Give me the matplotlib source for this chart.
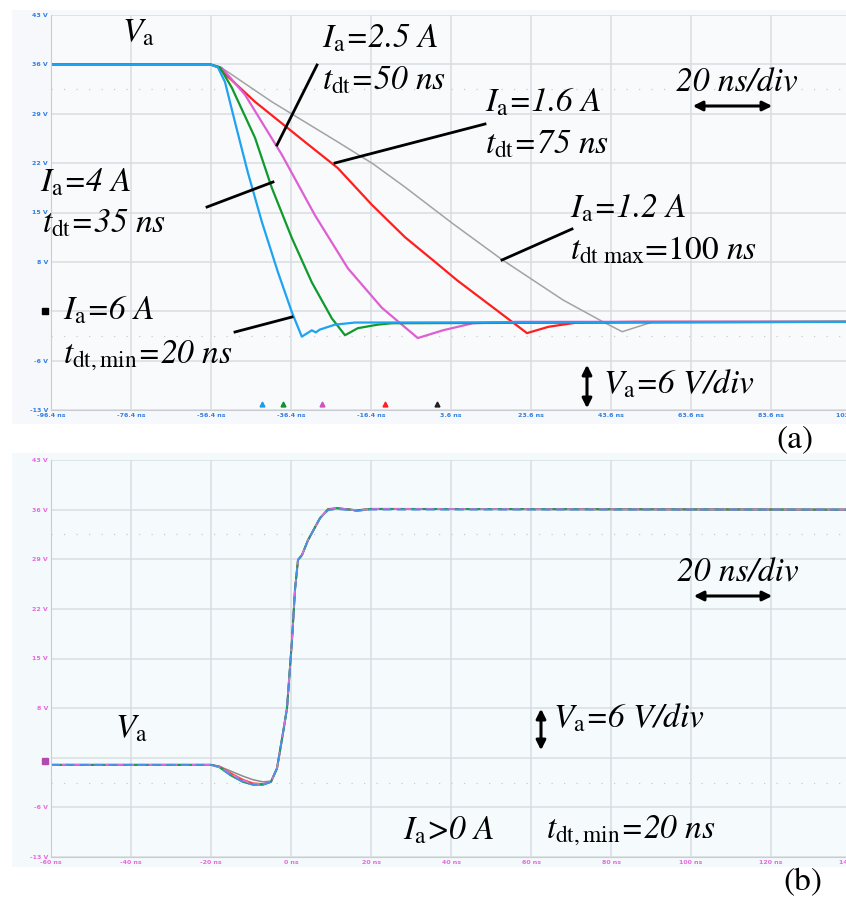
import matplotlib
matplotlib.use("Agg")
import matplotlib.pyplot as plt
from matplotlib.patches import Rectangle, FancyArrowPatch

plt.rcParams['mathtext.fontset'] = 'stix'

W, H = 846, 898

# ---------------- data: panel (a) ----------------
top_xticks = [-96.4, -76.4, -56.4, -36.4, -16.4, 3.6, 23.6, 43.6, 63.6, 83.6, 103.6]
top_xlabels = ['-96.4 ns', '-76.4 ns', '-56.4 ns', '-36.4 ns', '-16.4 ns', '3.6 ns',
               '23.6 ns', '43.6 ns', '63.6 ns', '83.6 ns', '103.6 ns']
yticks = [43, 36, 29, 22, 15, 8, 1, -6, -13]
ylabels = ['43 V', '36 V', '29 V', '22 V', '15 V', '8 V', '', '-6 V', '-13 V']

gray_t = [-96.4, -56.6, -52.9, -41.2, -24.7, -15.9, -7.9, 4.1, 16.4, 31.6, 41.6, 46.4, 54.1, 103.6]
gray_v = [36, 36, 35.2, 30.7, 25.0, 21.9, 18.6, 13.4, 8.3, 2.6, -0.5, -1.9, -0.5, -0.5]

red_t = [-96.4, -56.6, -54.7, -45.4, -32.9, -24.7, -16.2, -7.9, -0.4, 5.1, 22.6, 28.0, 35.1, 50.0, 103.6]
red_v = [36, 36, 35.6, 30.7, 25.0, 21.3, 16.1, 11.5, 8.0, 5.4, -2.1, -1.2, -0.6, -0.5, -0.5]

pink_t = [-96.4, -56.6, -53.7, -47.9, -38.7, -30.4, -22.2, -13.7, -4.7, 1.6, 9.1, 20.0, 103.6]
pink_v = [36, 36, 35.5, 31.7, 23.2, 14.6, 7.1, 1.5, -2.8, -1.7, -0.7, -0.5, -0.5]

green_t = [-96.4, -56.6, -54.2, -51.2, -45.4, -41.2, -36.2, -31.2, -26.2, -22.9, -19.7, -14.7, -11.2, 103.6]
green_v = [36, 36, 35.6, 32.7, 25.6, 18.5, 11.4, 5.1, 0.0, -2.4, -1.4, -0.9, -0.7, -0.5]

blue_t = [-96.4, -56.6, -54.7, -52.9, -50.4, -47.2, -43.7, -39.7, -36.2, -33.7, -31.2, -30.2, -29.2, -25.4, -20.4, 103.6]
blue_v = [36, 36, 35.6, 33.5, 27.8, 20.7, 13.7, 6.6, 0.9, -2.6, -1.7, -2.0, -1.6, -0.9, -0.6, -0.5]

cursor_t = [-43.6, -38.4, -28.6, -12.9, 0.1]
cursor_c = ['#1e9be8', '#109030', '#d050c8', '#ff2020', '#202020']

# ---------------- data: panel (b) ----------------
bot_xticks = [-60, -40, -20, 0, 20, 40, 60, 80, 100, 120, 140]
bot_xlabels = ['-60 ns', '-40 ns', '-20 ns', '0 ns', '20 ns', '40 ns', '60 ns',
               '80 ns', '100 ns', '120 ns', '140 ns']

b_t = [-60, -20, -18, -15, -12, -9.5, -7, -5, -3.5, -2, -1, 0.25, 1, 1.75, 2.75, 4.25, 7.25, 9.25, 11.5, 16.5, 20, 140]
b_gray = [0, 0, -0.2, -0.9, -1.6, -2.1, -2.4, -2.3, -0.5, 4.5, 8, 17.6, 24.7, 28.9, 29.6, 31.7, 34.8, 36, 36.2, 35.9, 36.1, 36]
b_red = [0, 0, -0.2, -1.2, -2.1, -2.6, -2.7, -2.4, -0.5, 4.5, 8, 17.6, 24.7, 28.9, 29.6, 31.7, 34.8, 36.1, 36.2, 35.9, 36.1, 36]
b_pink = [0, 0, -0.3, -1.3, -2.2, -2.7, -2.7, -2.4, -0.5, 4.5, 8, 17.6, 24.7, 28.9, 29.6, 31.7, 34.8, 36, 36.2, 35.9, 36.1, 36]
b_green = [0, 0, -0.3, -1.5, -2.4, -2.8, -2.8, -2.4, -0.5, 4.5, 8, 17.6, 24.7, 28.9, 29.6, 31.7, 34.8, 36, 36.2, 35.9, 36.1, 36]
b_blue = [0, 0, -0.3, -1.5, -2.4, -2.8, -2.8, -2.4, -0.5, 4.5, 8, 17.6, 24.7, 28.9, 29.6, 31.7, 34.8, 35.9, 36.1, 35.8, 36.0, 36]

fig = plt.figure(figsize=(W / 100, H / 100), dpi=100)
fig.patch.set_facecolor('white')


def fx(px):
    return px / W


def fy(py):
    return 1 - py / H


def ax_rect(l, t, r, b):
    return [fx(l), fy(b), fx(r) - fx(l), fy(t) - fy(b)]


# scope screenshot backgrounds
fig.patches.append(Rectangle((fx(12), fy(424)), fx(846) - fx(12), fy(10) - fy(424),
                             transform=fig.transFigure, facecolor='#f7f8fb', edgecolor='none', zorder=-10))
fig.patches.append(Rectangle((fx(12), fy(867)), fx(846) - fx(12), fy(453) - fy(867),
                             transform=fig.transFigure, facecolor='#f4fafc', edgecolor='none', zorder=-10))


def style_axes(ax, xticks, xlabels, color, xlim, face):
    ax.set_facecolor(face)
    ax.set_xlim(*xlim)
    ax.set_ylim(-13, 43)
    ax.set_xticks(xticks)
    ax.set_xticklabels(xlabels, fontsize=4.5, color=color, fontweight='bold')
    ax.set_yticks(yticks)
    ax.set_yticklabels(ylabels, fontsize=4.5, color=color, fontweight='bold')
    ax.tick_params(length=0, pad=2)
    ax.grid(True, color='#d9dde2', linewidth=1.1)
    for y in (32.5, -2.5):
        ax.axhline(y, color='#c8ccd2', linewidth=0.9, linestyle=(0, (1, 9)), zorder=0.5)
    for s in ax.spines.values():
        s.set_visible(False)
    ax.spines['left'].set_visible(True)
    ax.spines['bottom'].set_visible(True)
    ax.spines['left'].set_color('#c8cdd4')
    ax.spines['bottom'].set_color('#c8cdd4')
    ax.set_axisbelow(True)


# ---------------- panel (a) ----------------
ax1 = fig.add_axes(ax_rect(51, 15, 851, 410))
style_axes(ax1, top_xticks, top_xlabels, '#2f7fe0', (-96.4, 103.6), '#f9fafc')
ax1.plot(gray_t, gray_v, color='#a3a3a3', lw=1.1)
ax1.plot(red_t, red_v, color='#ff1e1e', lw=1.6)
ax1.plot(pink_t, pink_v, color='#dd5fd2', lw=1.6)
ax1.plot(green_t, green_v, color='#0f9a2e', lw=1.6)
ax1.plot(blue_t, blue_v, color='#1ea3f2', lw=1.6)
for t, c in zip(cursor_t, cursor_c):
    ax1.plot([t], [-12.2], marker='^', ms=3.5, color=c, clip_on=False, zorder=5)
ax1.plot([-97.8], [1], marker='s', ms=5, color='black', clip_on=False, zorder=5)

# ---------------- panel (b) ----------------
ax2 = fig.add_axes(ax_rect(51, 460, 851, 857))
style_axes(ax2, bot_xticks, bot_xlabels, '#e868e0', (-60, 140), '#f5fbfd')
ax2.plot(b_t, b_gray, color='#8c8c8c', lw=1.1)
ax2.plot(b_t, b_red, color='#ff4040', lw=1.3)
ax2.plot(b_t, b_green, color='#10a050', lw=1.5)
ax2.plot(b_t, b_pink, color='#e070d8', lw=1.3, linestyle=(0, (4, 2)))
ax2.plot(b_t, b_blue, color='#4a90e8', lw=1.3, linestyle=(0, (5, 3)))
ax2.plot([-61.4], [0.6], marker='s', ms=5, color='#b04cb0', clip_on=False, zorder=5)

# ---------------- annotations ----------------
FS = 24
TK = dict(fontfamily='STIXGeneral', style='italic', fontsize=FS, va='baseline', ha='left', color='black')


def txt(px, py, s, **kw):
    d = dict(TK)
    d.update(kw)
    fig.text(fx(px), fy(py), s, **d)


def line(p1, p2):
    fig.add_artist(plt.Line2D([fx(p1[0]), fx(p2[0])], [fy(p1[1]), fy(p2[1])],
                              transform=fig.transFigure, color='black', lw=2.0))


def darrow(p1, p2):
    fig.add_artist(FancyArrowPatch((fx(p1[0]), fy(p1[1])), (fx(p2[0]), fy(p2[1])),
                                   transform=fig.transFigure, arrowstyle='<|-|>',
                                   mutation_scale=14, color='black', lw=2.2))


# panel (a)
txt(122, 42, r'$V_{\mathrm{a}}$')
txt(322, 47, r'$I_{\mathrm{a}}$=2.5 A')
txt(322, 90, r'$t_{\mathrm{dt}}$=50 ns')
txt(485, 112, r'$I_{\mathrm{a}}$=1.6 A')
txt(485, 153, r'$t_{\mathrm{dt}}$=75 ns')
txt(40, 192, r'$I_{\mathrm{a}}$=4 A')
txt(42, 232, r'$t_{\mathrm{dt}}$=35 ns')
txt(570, 217, r'$I_{\mathrm{a}}$=1.2 A')
txt(570, 260, r'$t_{\mathrm{dt\ max}}$=' + '100' + r' $\mathit{ns}$', style='normal')
txt(63, 320, r'$I_{\mathrm{a}}$=6 A')
txt(63, 363, r'$t_{\mathrm{dt,min}}$=20 ns')
txt(676, 92, '20 ns/div')
darrow((690, 106), (775, 106))
txt(603, 393, r'$V_{\mathrm{a}}$=6 V/div')
darrow((587, 362), (587, 411))
txt(776, 447, '(a)', style='normal')

line((317, 65), (277, 145))
line((485, 124), (335, 163))
line((207, 207), (273, 182))
line((572, 229), (502, 260))
line((235, 332), (292, 317))

# panel (b)
txt(115, 737, r'$V_{\mathrm{a}}$')
txt(677, 582, '20 ns/div')
darrow((691, 596), (775, 596))
txt(553, 728, r'$V_{\mathrm{a}}$=6 V/div')
darrow((541, 706), (541, 753))
txt(403, 840, r'$I_{\mathrm{a}}$>0 A')
txt(546, 838, r'$t_{\mathrm{dt,min}}$=20 ns')
txt(783, 890, '(b)', style='normal')

fig.savefig('out.png', dpi=100, facecolor='white')
